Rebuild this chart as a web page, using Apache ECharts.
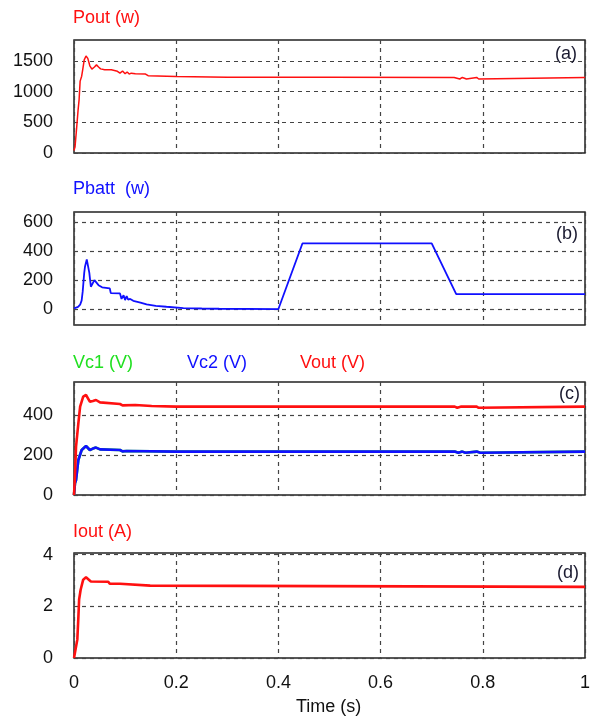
<!DOCTYPE html>
<html>
<head>
<meta charset="utf-8">
<script src="https://cdn.jsdelivr.net/npm/echarts@6/dist/echarts.min.js"></script>
<style>
  html, body { margin: 0; padding: 0; background: #fff; }
  #chart { width: 590px; height: 720px; }
</style>
</head>
<body>
<div id="chart"></div>
<script>
// Time axis (s)
const timeTicks = [0, 0.2, 0.4, 0.6, 0.8, 1];

// (a) output power
const poutT = [0, 0.002, 0.005, 0.008, 0.01, 0.012, 0.015, 0.017, 0.02, 0.0235, 0.027, 0.031, 0.035, 0.04, 0.044, 0.048, 0.052, 0.06, 0.073, 0.075, 0.085, 0.09, 0.095, 0.1, 0.104, 0.108, 0.112, 0.12, 0.14, 0.145, 0.2, 0.3, 0.5, 0.744, 0.745, 0.755, 0.756, 0.76, 0.761, 0.768, 0.769, 0.788, 0.789, 0.792, 0.793, 1];
const poutV = [40, 100, 390, 700, 870, 1170, 1250, 1355, 1516, 1580, 1540, 1420, 1366, 1400, 1435, 1400, 1370, 1355, 1355, 1330, 1330, 1300, 1335, 1290, 1320, 1285, 1300, 1290, 1285, 1258, 1245, 1235, 1232, 1230, 1205, 1205, 1230, 1230, 1205, 1205, 1230, 1230, 1205, 1205, 1230, 1230];
const poutTicks = [0, 500, 1000, 1500];

// (b) battery power
const pbattT = [0, 0.008, 0.012, 0.015, 0.017, 0.02, 0.0215, 0.025, 0.028, 0.03, 0.033, 0.036, 0.04, 0.043, 0.048, 0.055, 0.07, 0.072, 0.09, 0.093, 0.097, 0.1, 0.103, 0.106, 0.11, 0.116, 0.13, 0.142, 0.16, 0.181, 0.214, 0.25, 0.284, 0.285, 0.4, 0.447, 0.7, 0.748, 1];
const pbattV = [5, 15, 30, 60, 120, 250, 292, 343, 330, 250, 154, 155, 200, 195, 165, 150, 143, 110, 108, 70, 95, 62, 90, 65, 70, 57, 45, 32, 22, 16, 7, 4, 2, 0, 0, 453, 453, 103, 103];
const pbattTicks = [0, 200, 400, 600];

// (c) capacitor and output voltages
const vc1T = [0, 0.002, 0.004, 0.0085, 0.015, 0.0235, 0.027, 0.031, 0.037, 0.043, 0.051, 0.09, 0.095, 0.098, 0.103, 0.2, 0.745, 0.746, 0.752, 0.753, 0.76, 0.761, 0.766, 0.767, 0.788, 0.789, 0.795, 0.796, 1];
const vc1V = [0, 60, 75, 175, 225, 245, 240, 225, 232, 237, 228, 225, 218, 225, 220, 217, 217, 211, 211, 217, 217, 211, 211, 217, 217, 211, 211, 217, 217];
const vc2T = [0, 0.002, 0.004, 0.0085, 0.015, 0.0235, 0.027, 0.031, 0.037, 0.043, 0.051, 0.09, 0.095, 0.098, 0.103, 0.2, 0.745, 0.746, 0.752, 0.753, 0.76, 0.761, 0.766, 0.767, 0.788, 0.789, 0.795, 0.796, 1];
const vc2V = [0, 60, 75, 175, 225, 245, 240, 225, 232, 237, 228, 225, 218, 225, 220, 217, 217, 211, 211, 217, 217, 211, 211, 217, 217, 211, 211, 217, 217];
const voutT = [0, 0.002, 0.004, 0.0085, 0.012, 0.018, 0.0235, 0.027, 0.031, 0.037, 0.043, 0.051, 0.09, 0.095, 0.096, 0.098, 0.12, 0.152, 0.2, 0.5, 0.745, 0.746, 0.75, 0.751, 0.758, 0.759, 0.761, 0.762, 0.788, 0.789, 0.792, 0.793, 1];
const voutV = [0, 100, 242, 358, 442, 492, 500, 490, 467, 470, 475, 463, 455, 448, 455, 455, 450, 445, 442, 442, 442, 436, 436, 442, 442, 436, 436, 442, 442, 436, 436, 442, 442];
const voltTicks = [0, 200, 400];

// (d) output current
const ioutT = [0, 0.002, 0.0065, 0.0085, 0.01, 0.013, 0.018, 0.0235, 0.027, 0.033, 0.067, 0.07, 0.09, 0.093, 0.149, 0.152, 1];
const ioutV = [0, 0.06, 0.71, 1.55, 2.26, 2.64, 3.03, 3.12, 3.1, 2.96, 2.95, 2.87, 2.87, 2.8, 2.8, 2.75, 2.75];
const ioutTicks = [0, 2, 4];

const zip = (t, v) => t.map((x, i) => [x, v[i]]);

const FONT = 'Liberation Sans';
const SIZE = 18;
const RED = '#ff1010';
const BLUE = '#1010ff';
const GREEN = '#20e020';

const panels = [
  { top: 40, height: 113, min: 0, max: 1840, ticks: poutTicks },
  { top: 212, height: 113, min: -110, max: 670, ticks: pbattTicks },
  { top: 382, height: 113, min: 0, max: 565, ticks: voltTicks },
  { top: 553, height: 105, min: 0, max: 4.06, ticks: ioutTicks }
];

const gridLine = { show: true, lineStyle: { color: '#444', width: 1.2, type: [4, 4] } };

const grid = panels.map(p => ({
  left: 74, right: 5, top: p.top, height: p.height,
  outerBoundsMode: 'none', containLabel: false,
  show: true, borderColor: '#222', borderWidth: 1.5, backgroundColor: 'transparent'
}));

const xAxis = panels.map((p, i) => ({
  type: 'value', gridIndex: i, min: 0, max: 1,
  axisLine: { show: false }, axisTick: { show: false, customValues: timeTicks },
  axisLabel: {
    show: i === 3, color: '#111', fontFamily: FONT, fontSize: SIZE, margin: 16,
    customValues: timeTicks,
    formatter: v => String(+(+v).toFixed(1))
  },
  splitLine: gridLine
}));

const yAxis = panels.map((p, i) => ({
  type: 'value', gridIndex: i, min: p.min, max: p.max,
  axisLine: { show: false },
  axisTick: { show: false, customValues: p.ticks },
  axisLabel: {
    color: '#111', fontFamily: FONT, fontSize: SIZE, margin: 21, customValues: p.ticks,
    formatter: v => String(v)
  },
  splitLine: gridLine
}));

const line = (name, i, data, color, width) => ({
  name, type: 'line', xAxisIndex: i, yAxisIndex: i, data,
  showSymbol: false, symbol: 'none', animation: false,
  lineStyle: { color, width }, itemStyle: { color }
});

const series = [
  line('Pout', 0, zip(poutT, poutV), RED, 1.5),
  line('Pbatt', 1, zip(pbattT, pbattV), BLUE, 1.8),
  line('Vc1', 2, zip(vc1T, vc1V), GREEN, 2.6),
  line('Vc2', 2, zip(vc2T, vc2V), BLUE, 2.6),
  line('Vout', 2, zip(voutT, voutV), RED, 2.6),
  line('Iout', 3, zip(ioutT, ioutV), RED, 2.6)
];

const txt = (text, left, top, color) => ({
  text, left, top, padding: 0,
  textStyle: { color, fontFamily: FONT, fontSize: SIZE, fontWeight: 'normal' }
});

const title = [
  txt('Pout (w)', 73, 9, RED),
  txt('Pbatt  (w)', 73, 180, BLUE),
  txt('Vc1 (V)', 73, 354, GREEN),
  txt('Vc2 (V)', 187, 354, BLUE),
  txt('Vout (V)', 300, 354, RED),
  txt('Iout (A)', 73, 523, RED),
  txt('(a)', 555, 45, '#1a1a30'),
  txt('(b)', 556, 225, '#1a1a30'),
  txt('(c)', 559, 385, '#1a1a30'),
  txt('(d)', 557, 564, '#1a1a30'),
  txt('Time (s)', 296, 698, '#111')
];

const chart = echarts.init(document.getElementById('chart'), null, { renderer: 'canvas' });
chart.setOption({
  animation: false,
  backgroundColor: '#fff',
  title, grid, xAxis, yAxis, series
});
</script>
</body>
</html>
